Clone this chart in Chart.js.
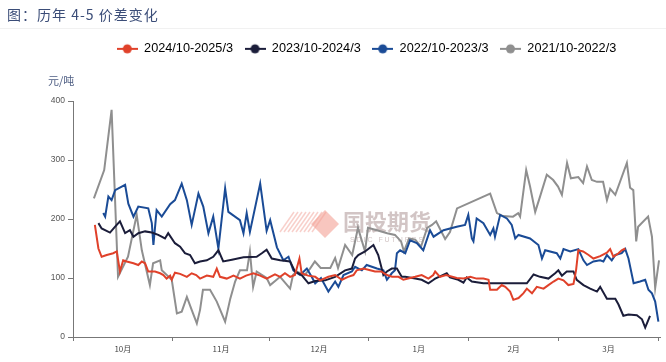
<!DOCTYPE html>
<html>
<head>
<meta charset="utf-8">
<script src="https://cdn.jsdelivr.net/npm/chart.js@4.4.1/dist/chart.umd.min.js"></script>
<style>
    html, body { margin: 0; padding: 0; background: #fff; }
    #wrap { position: relative; width: 666px; height: 362px; }
    #myChart { position: absolute; left: 0; top: 0; }
    #title { position: absolute; left: 7px; top: 4px; font: 14px "Noto Sans CJK SC"; color: #3b4d78; letter-spacing: 1px; }
    #rule { position: absolute; left: 0; top: 28px; width: 666px; height: 1px; background: #f1f1f1; }
    #unit { position: absolute; left: 48px; top: 72px; font: 11px "Noto Sans CJK SC"; color: #4d5d82; }
</style>
</head>
<body>
<div id="wrap">
    <canvas id="myChart" width="666" height="362"></canvas>
    <div id="title">图：历年 4-5 价差变化</div>
    <div id="rule"></div>
    <div id="unit">元/吨</div>
</div>
<script>
// x = days counted from 1 Oct of each season
const monthLabels = ['10月', '11月', '12月', '1月', '2月', '3月'];
const monthEdges = [0, 31, 61, 92, 123, 151, 182];
const seriesNames = ['2024/10-2025/3', '2023/10-2024/3', '2022/10-2023/3', '2021/10-2022/3'];

const redDays = [6.8,7.9,8.9,10.5,12.5,13.6,14.6,15.6,16.7,18.8,20.3,21.4,22.4,23.4,25.5,27.1,28.1,29.1,30.2,30.7,31.7,33.3,35.4,36.9,38.3,39.5,41.6,43.6,44.7,45.7,47.8,49.9,51.9,53.8,56.1,58.2,60.2,62.8,64.4,65.9,67.5,69.0,70.4,71.1,73.1,75.3,76.8,79.4,81.5,83.6,85.5,87.2,88.2,90.3,92.4,93.9,95.8,97.6,99.2,101.2,102.7,104.2,106.4,108.4,110.5,112.0,112.6,114.1,116.0,119.3,121.4,123.5,125.5,127.6,129.2,129.7,131.8,133.3,134.4,135.9,136.9,138.5,140.0,141.1,142.7,144.2,146.3,147.8,149.4,150.9,152.5,154.0,155.6,156.4,157.1,158.6,160.3,161.8,163.9,166.0,167.0,168.0,169.6,170.6,171.7];
const redVals = [190,150,136,139,142,145,111,130,128,125,122,128,125,111,111,108,105,99,104,97,109,107,102,108,105,99,104,102,116,102,99,104,99,104,108,104,99,106,102,108,102,105,133,108,104,102,96,102,105,97,102,105,113,116,113,111,111,105,102,102,97,99,102,105,99,105,111,102,105,100,99,102,99,99,97,80,80,88,85,77,63,66,74,82,74,85,82,88,94,99,96,88,90,113,147,145,139,133,137,143,149,136,142,147,150];

const blackDays = [7.9,8.9,11.5,13.1,14.6,16.2,17.7,18.8,20.3,22.4,24.5,26.5,28.6,29.6,31.7,33.3,34.8,36.4,37.9,39.5,41.6,43.6,45.2,46.7,49.4,53.0,57.1,58.7,60.2,61.8,64.4,67.5,69.0,71.1,73.2,75.3,78.4,81.5,84.6,86.7,87.7,88.7,90.8,93.4,94.9,96.5,97.6,99.1,100.7,102.2,103.3,106.4,108.4,110.5,112.1,112.6,116.2,117.2,119.8,121.4,122.4,124.0,127.6,141.1,143.2,145.2,147.8,149.9,150.9,152.0,153.5,155.6,156.6,158.7,160.8,162.9,163.9,166.0,168.6,169.6,171.1,172.7,175.3,176.9,177.9,179.4];
const blackVals = [193,184,177,187,196,176,181,170,176,179,177,173,167,176,159,153,142,139,125,128,130,136,147,128,131,135,136,142,148,133,130,128,111,105,91,95,96,102,113,116,133,139,145,156,139,105,111,116,116,102,102,99,97,91,97,99,108,101,97,92,101,94,91,91,106,102,99,108,113,104,111,111,97,88,82,77,85,65,65,55,36,38,37,30,16,36];

const blueDays = [9.4,10.0,11.0,12.0,13.1,16.2,17.2,18.8,20.3,23.4,24.5,25.0,26.0,27.6,30.2,31.7,33.8,35.4,36.9,39.0,40.5,42.1,43.6,45.2,47.3,48.3,51.9,53.0,54.0,55.0,58.2,60.2,61.3,63.4,65.4,67.0,68.5,70.6,72.7,74.2,75.3,77.1,79.4,81.5,82.5,84.1,86.7,87.7,89.8,91.3,94.5,96.5,97.6,99.1,100.1,100.7,101.7,103.3,104.8,106.9,108.9,111.0,112.1,115.2,119.3,121.9,122.9,124.0,124.5,125.5,127.6,129.7,130.7,131.2,132.8,134.9,136.4,137.5,138.5,142.1,144.7,145.8,146.8,150.4,151.5,152.5,154.6,157.1,158.7,159.8,161.8,163.9,164.9,166.0,167.5,168.6,170.6,171.7,172.7,174.3,176.3,177.9,178.9,180.0,181.0,182.0];
const blueVals = [210,204,238,232,249,258,226,204,221,218,193,156,215,204,225,232,260,232,190,243,221,176,204,150,252,212,198,176,210,178,260,180,198,152,130,136,113,105,116,102,91,100,77,94,85,105,111,119,113,122,116,113,97,108,113,142,147,142,164,159,147,181,170,181,187,190,207,167,162,201,193,173,184,170,207,201,190,167,173,167,156,133,147,142,133,149,145,149,130,122,128,130,128,139,130,139,142,149,133,91,94,97,80,74,60,26];

const grayDays = [6.5,9.7,12.0,14.0,17.1,19.8,21.4,23.9,24.9,27.1,27.6,30.7,32.3,33.8,35.4,36.9,38.5,39.5,40.4,42.6,44.7,47.3,48.9,50.4,51.9,54.1,55.0,56.0,57.1,60.2,61.3,64.4,67.5,68.4,69.5,72.0,73.7,75.2,77.0,80.0,81.5,82.4,84.6,86.8,88.6,90.8,91.7,94.5,97.7,100.1,102.0,102.9,104.5,106.4,108.2,110.1,111.6,112.9,115.7,117.2,119.4,129.7,131.8,133.7,136.8,138.4,139.0,140.9,142.1,143.7,145.2,147.3,149.3,150.8,152.0,153.6,154.8,157.1,158.6,159.8,161.3,162.9,164.8,166.0,167.0,168.6,172.2,173.2,174.2,175.1,175.7,178.8,180.0,181.0,182.2];
const grayVals = [235,283,385,102,136,207,147,88,125,130,113,97,40,43,68,46,23,46,80,80,60,26,65,94,113,113,145,85,111,100,88,102,82,105,111,105,116,128,117,117,134,117,156,139,185,145,185,181,176,173,162,145,167,165,153,185,190,196,166,178,218,243,210,205,204,210,204,283,255,212,238,275,266,255,241,295,269,271,261,289,266,263,263,232,251,241,295,253,249,162,187,204,170,83,130];

const seriesColors = ['#e0412a', '#1b1d3a', '#1a4b96', '#8f8f8f'];

function toPoints(days, vals){
    return days.map((d, i) => ({ x: d, y: vals[i] }));
}

// little line + dot for the legend
function legendMarker(color){
    const c = document.createElement('canvas');
    c.width = 21; c.height = 12;
    const g = c.getContext('2d');
    g.strokeStyle = color;
    g.lineWidth = 2;
    g.beginPath(); g.moveTo(0, 6); g.lineTo(21, 6); g.stroke();
    g.fillStyle = color;
    g.beginPath(); g.arc(10.5, 6, 4.5, 0, Math.PI * 2); g.fill();
    return c;
}

const legendHeight = {
    id: 'legendHeight',
    beforeInit(chart){
        const fit = chart.legend.fit;
        chart.legend.fit = function(){
            fit.call(this);
            this.height = 70;
        };
    }
};

const watermark = {
    id: 'watermark',
    beforeDatasetsDraw(chart){
        const ctx = chart.ctx;
        ctx.save();
        ctx.strokeStyle = 'rgba(240,150,140,0.45)';
        ctx.lineWidth = 1.5;
        for (let i = 0; i < 9; i++){
            ctx.beginPath();
            ctx.moveTo(280 + i * 4, 232);
            ctx.lineTo(294 + i * 4, 212);
            ctx.stroke();
        }
        ctx.fillStyle = 'rgba(244,160,148,0.6)';
        ctx.beginPath();
        ctx.moveTo(325, 210); ctx.lineTo(339, 224); ctx.lineTo(325, 238); ctx.lineTo(311, 224);
        ctx.closePath(); ctx.fill();
        ctx.fillStyle = 'rgba(165,140,140,0.5)';
        ctx.font = 'bold 22px "Noto Sans CJK SC"';
        ctx.textBaseline = 'middle';
        ctx.fillText('国投期货', 343, 222);
        ctx.font = '7px "Liberation Sans"';
        ctx.fillText('S D I C   F U T U R E S', 350, 240);
        ctx.restore();
    }
};

const ctx = document.getElementById('myChart').getContext('2d');
const allDays = [redDays, blackDays, blueDays, grayDays];
const allVals = [redVals, blackVals, blueVals, grayVals];

new Chart(ctx, {
    type: 'line',
    data: {
        datasets: seriesNames.map((name, i) => ({
            label: name,
            data: toPoints(allDays[i], allVals[i]),
            borderColor: seriesColors[i],
            backgroundColor: seriesColors[i],
            borderWidth: 2,
            pointRadius: 0,
            tension: 0,
            xAxisID: 'x',
            yAxisID: 'y',
        })),
    },
    options: {
        responsive: false,
        animation: false,
        devicePixelRatio: 1,
        layout: { padding: { top: 31, left: 0, right: 6, bottom: 0 } },
        plugins: {
            legend: {
                position: 'top',
                align: 'center',
                fullSize: false,
                labels: {
                    usePointStyle: true,
                    pointStyleWidth: 21,
                    padding: 11.5,
                    color: '#333',
                    font: { size: 12.7, family: 'Liberation Sans' },
                    generateLabels: chart => chart.data.datasets.map((ds, i) => ({
                        text: ds.label,
                        pointStyle: legendMarker(ds.borderColor),
                        fillStyle: ds.borderColor,
                        strokeStyle: ds.borderColor,
                        lineWidth: 0,
                        hidden: false,
                        datasetIndex: i,
                    })),
                },
            },
            tooltip: { enabled: false },
        },
        scales: {
            x: {
                type: 'linear',
                position: 'bottom',
                min: 0,
                max: 182.5,
                afterBuildTicks: s => { s.ticks = monthEdges.map(v => ({ value: v })); },
                afterFit: s => { s.height = 5; },
                ticks: { display: false },
                grid: { display: true, drawOnChartArea: false, drawTicks: true, tickLength: 4, color: '#777' },
                border: { display: true, color: '#777', width: 1 },
            },
            xm: {
                type: 'linear',
                position: 'bottom',
                min: 0,
                max: 182.5,
                afterBuildTicks: s => {
                    s.ticks = monthLabels.map((m, i) => ({ value: (monthEdges[i] + monthEdges[i + 1]) / 2 }));
                },
                afterFit: s => { s.height = 20; },
                ticks: {
                    autoSkip: false,
                    maxRotation: 0,
                    padding: 2,
                    color: '#444',
                    font: { size: 8, family: 'Noto Sans CJK SC' },
                    callback: (v, i) => monthLabels[i],
                },
                grid: { display: false, drawTicks: false },
                border: { display: false },
            },
            y: {
                min: 0,
                max: 400,
                afterFit: s => { s.width = 73; },
                ticks: { stepSize: 100, padding: 3, color: '#555', font: { size: 8.5, family: 'Liberation Sans' } },
                grid: { drawOnChartArea: false, drawTicks: true, tickLength: 5, color: '#777' },
                border: { display: true, color: '#777', width: 1 },
            },
        },
    },
    plugins: [legendHeight, watermark],
});
</script>
</body>
</html>
